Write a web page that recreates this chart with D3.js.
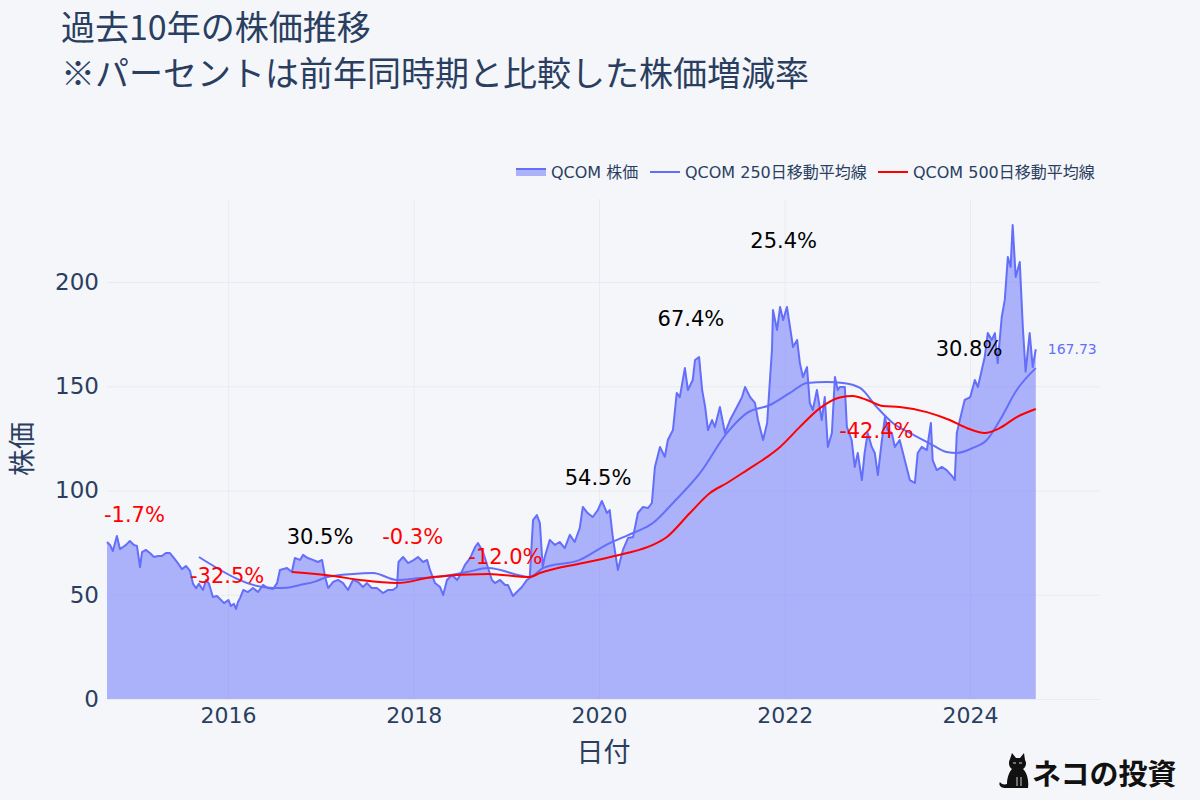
<!DOCTYPE html>
<html>
<head>
<meta charset="utf-8">
<script src="https://cdn.jsdelivr.net/npm/d3@7"></script>
<style>
  html, body { margin: 0; padding: 0; background: #f5f6fa; }
  svg { display: block; }
</style>
</head>
<body>
<svg id="chart" width="1200" height="800"></svg>
<script>
// ---------------- DATA ----------------
const priceDates = [
"2014-09-11","2014-09-23","2014-10-04","2014-10-20","2014-11-01","2014-11-13","2014-11-25","2014-12-10","2014-12-26",
"2015-01-07","2015-01-19","2015-01-27","2015-02-11","2015-02-27","2015-03-15","2015-03-31","2015-04-15","2015-05-01","2015-05-17",
"2015-06-02","2015-06-17","2015-07-03","2015-07-19","2015-08-04","2015-08-16","2015-08-28","2015-09-08","2015-09-24","2015-10-06",
"2015-10-18","2015-11-02","2015-11-18","2015-12-04","2015-12-16",
"2016-01-02","2016-01-12","2016-01-24","2016-02-01","2016-02-09","2016-02-17","2016-03-01","2016-03-19","2016-04-08","2016-04-28",
"2016-05-17","2016-06-06","2016-06-26","2016-07-12","2016-07-23","2016-08-20","2016-09-08","2016-09-20","2016-10-10","2016-10-22",
"2016-11-10","2016-11-30","2016-12-20",
"2017-01-05","2017-01-17","2017-01-29","2017-02-17","2017-03-09","2017-03-29","2017-04-17","2017-05-07","2017-05-27","2017-06-15",
"2017-07-01","2017-07-20","2017-08-09","2017-09-02","2017-09-22","2017-10-11","2017-10-27","2017-11-02","2017-11-20","2017-12-10",
"2018-01-02","2018-01-18","2018-02-07","2018-02-23","2018-03-06","2018-03-26","2018-04-15","2018-04-27","2018-05-12","2018-06-01",
"2018-06-21","2018-07-03","2018-07-22","2018-08-11","2018-08-31","2018-09-11","2018-10-01","2018-10-21","2018-11-05","2018-11-17",
"2018-12-07","2018-12-27",
"2019-01-07","2019-01-27","2019-02-11","2019-03-03","2019-03-23","2019-04-03","2019-04-16","2019-05-01","2019-05-13","2019-05-24",
"2019-06-01","2019-06-21","2019-07-11","2019-07-30","2019-08-19","2019-09-08","2019-09-27","2019-10-17","2019-10-29","2019-11-17",
"2019-12-07","2019-12-27",
"2020-01-12","2020-02-01","2020-02-12","2020-02-24","2020-03-15","2020-04-04","2020-04-24","2020-05-14","2020-06-02","2020-06-22",
"2020-07-12","2020-07-27","2020-08-08","2020-08-28","2020-09-16","2020-09-28","2020-10-18","2020-11-02","2020-11-14","2020-12-04",
"2020-12-16",
"2021-01-04","2021-01-13","2021-01-29","2021-02-10","2021-02-22","2021-03-05","2021-03-21","2021-04-01","2021-04-21","2021-05-11",
"2021-05-31","2021-06-27","2021-07-17","2021-07-29","2021-08-18","2021-09-06","2021-09-18","2021-10-08","2021-10-24","2021-11-04",
"2021-11-12","2021-11-16","2021-12-02","2021-12-14","2021-12-26",
"2022-01-10","2022-01-22","2022-02-03","2022-02-19","2022-03-02","2022-03-14","2022-03-30","2022-04-10","2022-04-22","2022-05-08",
"2022-05-27","2022-06-08","2022-06-20","2022-07-06","2022-07-18","2022-07-29","2022-08-06","2022-08-26","2022-09-03","2022-09-22",
"2022-10-04","2022-10-16","2022-11-01","2022-11-12","2022-11-24","2022-12-10","2022-12-22",
"2023-01-03","2023-01-19","2023-01-31","2023-02-11","2023-02-27","2023-03-11","2023-03-30","2023-04-19","2023-05-09","2023-05-29",
"2023-06-09","2023-06-25","2023-07-15","2023-07-31","2023-08-07","2023-08-23","2023-09-12","2023-10-01","2023-10-25","2023-11-02",
"2023-11-10","2023-11-22","2023-12-11",
"2024-01-02","2024-01-20","2024-02-01","2024-02-28","2024-03-11","2024-03-27","2024-04-08","2024-04-19","2024-05-05","2024-05-17",
"2024-05-29","2024-06-09","2024-06-17","2024-06-29","2024-07-15","2024-07-27","2024-08-07","2024-08-23","2024-09-04","2024-09-16"
];
const priceValues = [
75.3,73.9,71.0,78.2,71.9,72.9,73.9,75.8,73.9,
73.4,63.3,70.5,71.5,70.0,68.1,68.6,68.6,70.0,70.0,
67.6,65.2,62.3,63.8,61.4,55.2,53.2,55.2,52.3,57.1,
55.2,48.9,49.4,47.5,46.0,
47.5,44.6,45.6,43.2,46.5,48.4,52.3,51.3,53.2,51.3,
54.7,53.2,52.8,55.6,61.9,62.8,60.9,67.6,66.7,69.1,
67.6,66.7,65.7,
66.7,58.5,53.2,56.1,57.1,55.6,52.3,57.1,56.1,53.7,
55.6,53.2,53.2,50.8,52.3,52.3,53.7,65.7,68.1,65.2,
66.7,68.1,65.7,66.7,61.9,55.6,53.7,49.9,57.1,59.5,
57.1,59.5,64.3,67.6,72.9,74.8,70.5,62.8,57.1,55.6,
57.1,54.7,
54.7,49.4,51.3,53.7,57.1,58.0,85.8,88.2,84.4,63.3,
68.1,76.3,73.9,75.3,72.4,78.7,75.3,82.0,92.1,89.2,
87.3,90.6,
95.0,89.2,90.6,77.7,61.9,71.5,77.2,77.7,89.2,92.1,
91.6,94.0,111.3,120.9,116.1,124.2,129.0,146.8,144.8,158.7,
148.2,
153.0,162.6,164.0,148.2,140.0,129.0,133.8,130.5,140.0,127.6,
133.8,140.0,144.8,149.6,144.8,142.0,133.8,124.2,132.4,153.0,
167.4,186.6,177.0,188.0,181.8,
188.0,178.4,168.8,172.2,161.1,154.4,159.2,142.0,138.6,148.2,
133.8,144.8,120.9,127.6,154.4,148.2,149.6,149.6,130.5,124.2,
111.3,118.0,105.0,118.0,127.6,120.9,118.0,
107.4,124.2,135.2,129.0,127.6,120.9,124.2,114.6,105.0,103.6,
118.0,120.9,119.4,132.4,114.6,109.8,111.3,109.8,106.5,105.0,
127.6,133.8,143.4,
144.8,153.0,149.6,164.0,175.5,172.2,175.5,161.1,183.2,191.4,
212.0,207.2,227.3,202.4,209.6,178.4,157.0,175.5,159.2,167.73
];

const ma250Dates = [
"2015-09-08","2016-06-26","2016-08-20","2016-10-10","2016-12-08","2017-01-25","2017-05-07","2017-07-25","2017-10-27",
"2018-01-26","2018-04-03","2018-07-30","2018-10-21","2019-04-04","2019-05-25","2019-10-17","2020-02-12","2020-04-04",
"2020-05-14","2020-07-31","2020-10-18","2021-02-02","2021-05-19","2021-08-06","2021-11-04","2022-01-22","2022-03-30",
"2022-06-16","2022-08-19","2022-10-25","2022-12-30","2023-03-03","2023-05-09","2023-08-07","2023-10-01","2023-11-10",
"2024-01-12","2024-03-07","2024-04-28","2024-07-03","2024-09-16"
];
const ma250Values = [
68.1,53.2,53.4,54.7,56.3,58.5,60.0,60.4,57.1,
58.0,58.5,60.9,62.8,58.5,62.8,66.7,74.8,77.5,
79.6,84.4,94.0,108.4,127.6,137.2,141.0,146.8,151.6,
152.0,151.6,149.2,140.0,132.4,127.6,121.8,118.5,118.0,
120.4,124.2,133.8,148.2,158.7
];

const ma500Dates = [
"2016-09-08","2017-02-17","2017-06-03","2017-10-27","2018-03-17","2018-10-21","2019-04-03","2019-05-13","2019-10-29",
"2020-04-04","2020-07-31","2020-09-24","2020-12-24","2021-03-13","2021-05-19","2021-08-06","2021-10-24","2021-12-14",
"2022-03-02","2022-05-20","2022-08-06","2022-09-27","2022-11-21","2023-01-23","2023-03-30","2023-07-15","2023-10-13",
"2023-12-19","2024-02-28","2024-04-28","2024-07-03","2024-09-16"
];
const ma500Values = [
60.9,59.0,57.1,55.6,58.5,60.0,58.5,60.4,65.2,
69.5,73.9,77.7,89.2,98.8,103.6,109.8,116.1,120.9,
130.5,139.5,144.6,145.3,143.4,140.5,140.0,137.6,133.8,
130.0,127.6,130.0,135.2,139.1
];

const annoDates  = ["2015-01-01","2016-01-01","2017-01-01","2018-01-01","2019-01-01","2020-01-01","2021-01-01","2022-01-01","2023-01-01","2024-01-01"];
const annoLabels = ["-1.7%","-32.5%","30.5%","-0.3%","-12.0%","54.5%","67.4%","25.4%","-42.4%","30.8%"];
const annoValues = [88.2,59.0,77.7,77.7,68.1,106.0,182.2,219.6,128.5,167.9];

const yTicks = [0, 50, 100, 150, 200];
const xTickDates = ["2016-01-01","2018-01-01","2020-01-01","2022-01-01","2024-01-01"];

const titleLines = ["過去10年の株価推移", "※パーセントは前年同時期と比較した株価増減率"];
const legendLabels = ["QCOM 株価", "QCOM 250日移動平均線", "QCOM 500日移動平均線"];
const lastLabel = "167.73";

// ---------------- CHART ----------------
const parse = d3.utcParse("%Y-%m-%d");
const svg = d3.select("#chart");
const W = 1200, H = 800;
const plot = {left: 107, right: 1100, top: 199, bottom: 699};
const textColor = "#2a3f5f";
const latin = "'DejaVu Sans', 'Noto Sans CJK JP', sans-serif";
const cjk = "'Noto Sans CJK JP', 'DejaVu Sans', sans-serif";

svg.append("rect").attr("width", W).attr("height", H).attr("fill", "#f5f6fa");

const x = d3.scaleUtc()
  .domain([parse("2014-09-11"), parse("2025-05-27")])
  .range([plot.left, plot.right]);
const y = d3.scaleLinear()
  .domain([0, 239.8])
  .range([plot.bottom, plot.top]);

// grid
const gridColor = "#e8ebf2";
svg.append("g")
  .attr("transform", `translate(${plot.left},0)`)
  .call(d3.axisLeft(y).tickValues(yTicks).tickSize(-(plot.right - plot.left)).tickFormat(""))
  .call(g => g.select(".domain").remove())
  .call(g => g.selectAll("line").attr("stroke", gridColor).attr("stroke-width", 1));
svg.append("g")
  .attr("transform", `translate(0,${plot.bottom})`)
  .call(d3.axisBottom(x).tickValues(xTickDates.map(parse)).tickSize(-(plot.bottom - plot.top)).tickFormat(""))
  .call(g => g.select(".domain").remove())
  .call(g => g.selectAll("line").attr("stroke", gridColor).attr("stroke-width", 1));

// series
const priceData = priceDates.map((d, i) => ({date: parse(d), value: priceValues[i]}));
const ma250Data = ma250Dates.map((d, i) => ({date: parse(d), value: ma250Values[i]}));
const ma500Data = ma500Dates.map((d, i) => ({date: parse(d), value: ma500Values[i]}));

const area = d3.area().x(d => x(d.date)).y0(y(0)).y1(d => y(d.value));
const line = d3.line().x(d => x(d.date)).y(d => y(d.value));

svg.append("path").datum(priceData)
  .attr("d", area).attr("fill", "rgba(99,110,250,0.5)");
svg.append("path").datum(priceData)
  .attr("d", line).attr("fill", "none").attr("stroke", "#636efa").attr("stroke-width", 2).attr("stroke-linejoin", "round");
svg.append("path").datum(ma250Data)
  .attr("d", d3.line().curve(d3.curveMonotoneX).x(d => x(d.date)).y(d => y(d.value)))
  .attr("fill", "none").attr("stroke", "#636efa").attr("stroke-width", 2);
svg.append("path").datum(ma500Data)
  .attr("d", d3.line().curve(d3.curveMonotoneX).x(d => x(d.date)).y(d => y(d.value)))
  .attr("fill", "none").attr("stroke", "#ff0000").attr("stroke-width", 2);

// axes
const yAxis = svg.append("g")
  .attr("transform", `translate(${plot.left},0)`)
  .call(d3.axisLeft(y).tickValues(yTicks).tickSize(0).tickPadding(8));
yAxis.select(".domain").remove();
yAxis.selectAll("text").attr("font-family", latin).attr("font-size", 23).attr("fill", textColor);

const xAxis = svg.append("g")
  .attr("transform", `translate(0,${plot.bottom})`)
  .call(d3.axisBottom(x).tickValues(xTickDates.map(parse)).tickFormat(d3.utcFormat("%Y")).tickSize(0).tickPadding(8));
xAxis.select(".domain").remove();
xAxis.selectAll("text").attr("font-family", latin).attr("font-size", 22).attr("fill", textColor);

// axis titles
svg.append("text").attr("x", (plot.left + plot.right) / 2).attr("y", 762)
  .attr("text-anchor", "middle").attr("font-family", cjk).attr("font-size", 27).attr("fill", textColor).text("日付");
svg.append("text").attr("transform", `translate(32,${(plot.top + plot.bottom) / 2}) rotate(-90)`)
  .attr("text-anchor", "middle").attr("font-family", cjk).attr("font-size", 27).attr("fill", textColor).text("株価");

// annotations
svg.append("g").selectAll("text")
  .data(annoDates.map((d, i) => ({date: parse(d), label: annoLabels[i], value: annoValues[i]})))
  .join("text")
  .attr("x", d => x(d.date) - 1)
  .attr("y", d => y(d.value))
  .attr("dy", "0.35em")
  .attr("text-anchor", "middle")
  .attr("font-family", latin).attr("font-size", 21)
  .attr("fill", d => d.label.startsWith("-") ? "#ff0000" : "#000000")
  .text(d => d.label);

// last value label
const last = priceData[priceData.length - 1];
svg.append("text").attr("x", x(last.date) + 12).attr("y", y(last.value)).attr("dy", "0.35em")
  .attr("font-family", latin).attr("font-size", 14).attr("fill", "#636efa").text(lastLabel);

// title
svg.append("g").selectAll("text").data(titleLines).join("text")
  .attr("x", 61).attr("y", (d, i) => 39.5 + i * 46)
  .attr("font-family", cjk).attr("font-size", 34).attr("fill", textColor)
  .text(d => d);

// legend
const legendItems = [
  {label: legendLabels[0], x: 516, type: "area"},
  {label: legendLabels[1], x: 650, type: "line", color: "#636efa"},
  {label: legendLabels[2], x: 878, type: "line", color: "#ff0000"}
];
const lg = svg.append("g").attr("transform", "translate(0,172)");
legendItems.forEach(it => {
  if (it.type === "area") {
    lg.append("rect").attr("x", it.x).attr("y", -3).attr("width", 30).attr("height", 7).attr("fill", "rgba(99,110,250,0.5)");
    lg.append("line").attr("x1", it.x).attr("x2", it.x + 30).attr("y1", -3).attr("y2", -3).attr("stroke", "#636efa").attr("stroke-width", 2);
  } else {
    lg.append("line").attr("x1", it.x).attr("x2", it.x + 30).attr("y1", 0).attr("y2", 0).attr("stroke", it.color).attr("stroke-width", 2);
  }
  lg.append("text").attr("x", it.x + 35).attr("y", 0).attr("dy", "0.35em")
    .attr("font-family", latin).attr("font-size", 16).attr("fill", textColor).text(it.label);
});

// watermark (cat + text)
const wm = svg.append("g").attr("transform", "translate(998,753)");
wm.append("path").attr("fill", "#111")
  .attr("d", "M12,6 L14,0 L18,5 L22,5 L26,0 L27,7 C29,10 28,14 25,16 C29,20 31,27 30,35 L8,35 C3,35 0,32 2,29 C3,31 6,32 9,31 C9,25 11,19 14,16 C11,14 10,10 12,6 Z");
wm.append("path").attr("stroke", "#fff").attr("stroke-width", 0.8).attr("fill", "none")
  .attr("d", "M15,10 L18,10 M21,10 L24,10 M19,24 L19,33 M23,24 L23,33");
wm.append("text").attr("x", 34).attr("y", 22).attr("dy", "0.35em")
  .attr("font-family", cjk).attr("font-weight", 700).attr("font-size", 29).attr("fill", "#111").text("ネコの投資");
</script>
</body>
</html>
